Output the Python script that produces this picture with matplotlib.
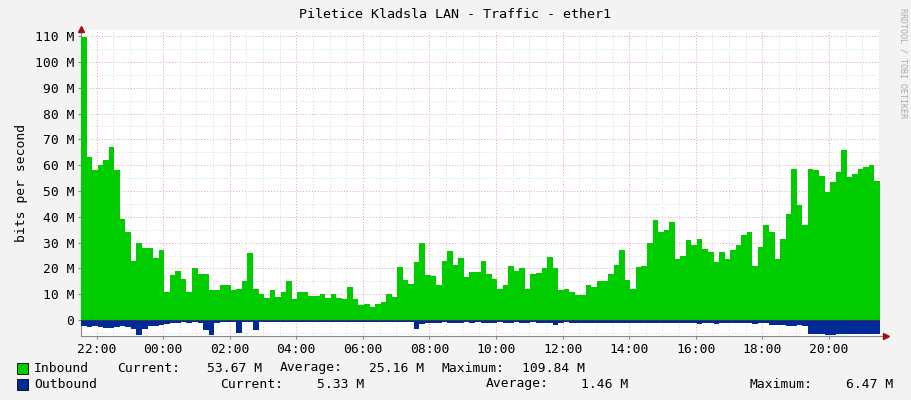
import matplotlib
matplotlib.use("Agg")
import matplotlib.pyplot as plt
from matplotlib.lines import Line2D
from matplotlib.patches import Rectangle
import numpy as np

# 10-minute samples, starting 21:32 (hours relative to midnight)
start_hour = -2.4667
step_hours = 1 / 6

inbound = [  # Mbit/s
    109.8, 63, 58, 60, 62, 67, 58, 39, 34, 23, 30, 28, 28, 24, 27, 11,
    17.5, 19, 16, 11, 20, 18, 18, 11.5, 11.5, 13.7, 13.7, 11.8, 12, 15,
    26, 12, 10, 8.5, 11.5, 9, 11, 15, 8, 11, 11, 9.3, 9.3, 10, 8.5, 10,
    8.5, 8, 12.8, 8, 5.7, 6.3, 5, 6.3, 7, 10, 9, 20.5, 15.4, 14, 22.5,
    30, 17.6, 17, 13.7, 23, 26.7, 21.4, 24, 16.7, 18.6, 18.6, 23, 18, 16,
    12, 13.7, 21, 19, 20, 12, 18, 18.3, 20, 24.4, 20, 11.5, 12, 10.9, 9.8,
    9.8, 13.4, 12.8, 15, 15, 18, 21.2, 27, 15.4, 12, 20.5, 21, 30, 38.6,
    34, 34.7, 38, 23.8, 25, 31, 29, 31.5, 27.6, 26.4, 22.5, 26.4, 23.8,
    27, 29, 32.8, 34, 21, 28.3, 36.7, 34, 23.8, 31.5, 41, 58.6, 44.4,
    36.7, 58.6, 58, 56, 49.6, 53.5, 57.4, 65.8, 55.4, 56.7, 58.6, 59.3,
    60, 54,
]
outbound = [  # Mbit/s
    2.5, 2.6, 2.4, 2.8, 3.0, 3.0, 2.8, 2.5, 2.8, 3.3, 5.7, 3.5, 2.5, 2.2,
    1.8, 1.5, 1.0, 1.0, 0.9, 1.0, 0.9, 1.0, 4.0, 6.0, 1.0, 0.8, 0.8, 0.8,
    5.0, 0.8, 0.6, 4.0, 0.7, 0.6, 0.7, 0.6, 0.6, 0.7, 0.6, 0.7, 0.6, 0.6,
    0.7, 0.6, 0.6, 0.7, 0.6, 0.6, 0.7, 0.6, 0.6, 0.6, 0.6, 0.6, 0.6, 0.6,
    0.7, 0.7, 0.7, 0.8, 3.4, 1.5, 1.0, 1.0, 1.2, 0.9, 1.0, 1.0, 1.2, 0.9,
    1.0, 0.9, 1.0, 1.0, 1.0, 0.9, 1.0, 1.0, 0.9, 1.0, 1.0, 0.9, 1.0, 1.0,
    1.2, 2.0, 1.0, 0.9, 1.0, 1.0, 1.0, 1.0, 1.3, 1.0, 1.0, 1.2, 1.0, 1.0,
    1.0, 1.2, 1.0, 1.0, 1.0, 1.0, 1.3, 1.0, 1.0, 1.0, 1.0, 1.2, 1.0, 1.5,
    1.2, 1.0, 1.5, 1.3, 1.2, 1.2, 1.0, 1.0, 1.3, 1.5, 1.3, 1.3, 2.0, 2.0,
    2.0, 2.2, 2.2, 2.0, 2.2, 5.3, 5.5, 5.6, 5.8, 5.9, 5.6, 5.5, 5.3, 5.4,
    5.5, 5.3, 5.5, 5.3,
]
tick_hours = list(range(-2, 21, 2))
tick_labels = ["22:00", "00:00", "02:00", "04:00", "06:00", "08:00",
               "10:00", "12:00", "14:00", "16:00", "18:00", "20:00"]
legend_rows = [
    ("Inbound", "#00CC00", [("Current:", 117, "53.67 M", 262),
                            ("Average:", 280, "25.16 M", 424),
                            ("Maximum:", 441, "109.84 M", 585)]),
    ("Outbound", "#002A97", [("Current:", 220, "5.33 M", 364),
                             ("Average:", 486, "1.46 M", 628),
                             ("Maximum:", 750, "6.47 M", 893)]),
]

W, H = 911, 400
MONO = "DejaVu Sans Mono"
BG = "#F3F3F3"
FS = 9.4

fig = plt.figure(figsize=(W / 100, H / 100), dpi=100, facecolor=BG)
ax = fig.add_axes([81 / W, 1 - 336 / H, 799 / W, 306 / H])
ax.set_facecolor("white")


def steps(vals):
    t = start_hour + step_hours * np.arange(len(vals) + 1)
    return t, np.append(vals, vals[-1])


t_in, inb = steps(inbound)
t_out, outb = steps(outbound)
ax.fill_between(t_in, 0, inb, step="post", color="#00CC00", lw=0, zorder=3)
ax.fill_between(t_out, 0, -outb, step="post", color="#002A97", lw=0, zorder=3)
ax.axhline(0, color="#333366", lw=0.8, zorder=4)

x0, x1 = start_hour, start_hour + 24
ax.set_xlim(x0, x1)
ax.set_ylim(-6.2, 112.4)

# grid
for v in np.arange(np.ceil(x0 * 2) / 2, x1, 0.5):
    major = abs(v / 2 - round(v / 2)) < 1e-6
    ax.axvline(v, color="#F0A0A0" if major else "#D8D8D8", lw=0.7,
               ls=(0, (1, 2)), zorder=1)
for v in np.arange(-5, 111, 5):
    major = v % 10 == 0
    ax.axhline(v, color="#F0A0A0" if major else "#D8D8D8", lw=0.7,
               ls=(0, (1, 2)), zorder=1)

ax.set_xticks(tick_hours)
ax.set_xticklabels(tick_labels, fontfamily=MONO, fontsize=FS)
yt = list(range(0, 111, 10))
ax.set_yticks(yt)
ax.set_yticklabels(["0"] + [f"{v} M" for v in yt[1:]], fontfamily=MONO, fontsize=FS)
ax.tick_params(length=2, color="#888888", pad=3)
ax.set_ylabel("bits per second", fontfamily=MONO, fontsize=FS, labelpad=5)
for s in ["top", "right"]:
    ax.spines[s].set_visible(False)
for s in ["left", "bottom"]:
    ax.spines[s].set_color("#888888")

# arrows
fig.add_artist(Line2D([880 / W, 886 / W], [1 - 335.5 / H] * 2, color="#888888", lw=0.8))
fig.add_artist(Line2D([886 / W], [1 - 335.5 / H], marker=">", color="#A01010", ms=5))
fig.add_artist(Line2D([81 / W], [1 - 29 / H], marker="^", color="#A01010", ms=5))

fig.text(455 / W, 1 - 14 / H, "Piletice Kladsla LAN - Traffic - ether1",
         fontfamily=MONO, fontsize=9.6, ha="center", va="center")
fig.text(903 / W, 1 - 8 / H, "RRDTOOL / TOBI OETIKER", fontfamily=MONO,
         fontsize=6, color="#AAAAAA", rotation=270, ha="center", va="top")

for row, (name, col, items) in enumerate(legend_rows):
    y = 1 - (368 + 16 * row) / H
    fig.add_artist(Rectangle((17 / W, y - 5.5 / H), 11 / W, 11 / H,
                             facecolor=col, edgecolor="black", lw=0.6))
    fig.text(34 / W, y, name, fontfamily=MONO, fontsize=FS, va="center")
    for label, lx, val, vx in items:
        fig.text(lx / W, y, label, fontfamily=MONO, fontsize=FS, va="center")
        fig.text(vx / W, y, val, fontfamily=MONO, fontsize=FS, va="center", ha="right")

fig.savefig("out.png", dpi=100, facecolor=BG)
